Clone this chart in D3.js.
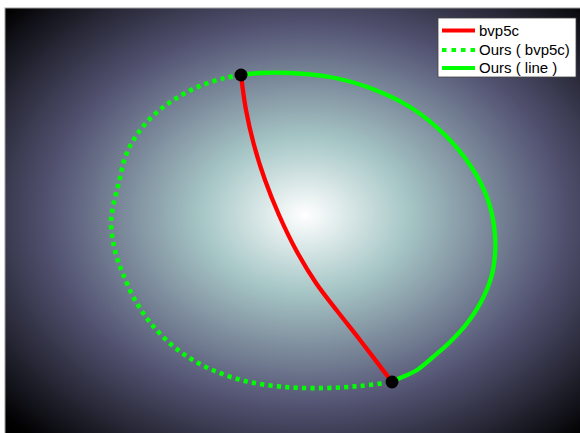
<!DOCTYPE html>
<html>
<head>
<meta charset="utf-8">
<script src="https://cdn.jsdelivr.net/npm/d3@7"></script>
<style>
  html, body { margin: 0; padding: 0; background: #ffffff; }
  svg { display: block; }
</style>
</head>
<body>
<svg id="chart" width="580" height="433"></svg>
<script>
// Axis limits of the plotting area
const xDomain = [0, 57.9];
const yDomain = [0, 43.2];

// Boundary-value solution from bvp5c
const bvpX = [23.6, 24.1, 24.9, 26.0, 27.4, 29.1, 31.1, 33.3, 35.5, 38.7];
const bvpY = [36.5, 33.0, 29.5, 26.0, 22.5, 19.0, 15.7, 12.8, 10.0, 5.8];

// Our geodesic, branch started from bvp5c (dotted)
const oursBvpX = [23.6, 22.0, 19.5, 17.0, 15.0, 13.3, 12.1, 11.4, 10.8, 10.6, 10.8, 11.2, 11.8, 13.0, 14.8, 17.3, 20.3, 24.0, 28.0, 32.0, 35.5, 38.7];
const oursBvpY = [36.5, 36.2, 35.4, 34.1, 32.6, 30.7, 28.5, 25.8, 23.3, 21.7, 19.9, 18.2, 16.6, 14.0, 11.4, 9.0, 7.2, 5.9, 5.3, 5.2, 5.4, 5.8];

// Our geodesic, branch started from the straight line (solid)
const oursLineX = [23.6, 25.5, 28.5, 32.5, 36.5, 40.5, 44.0, 46.7, 48.3, 49.0, 48.8, 47.9, 46.3, 44.5, 42.8, 41.2, 39.5, 38.7];
const oursLineY = [36.5, 36.7, 36.7, 36.3, 35.2, 33.3, 30.5, 27.2, 24.0, 20.5, 17.0, 14.4, 11.8, 9.8, 8.3, 7.0, 6.2, 5.8];

// Boundary points
const endX = [23.6, 38.7];
const endY = [36.5, 5.8];

const legendLabels = ["bvp5c", "Ours ( bvp5c)", "Ours ( line )"];

const svg = d3.select("#chart");
const plot = { left: 5, right: 584, top: 8, bottom: 440 };

const x = d3.scaleLinear().domain(xDomain).range([plot.left, plot.right]);
const y = d3.scaleLinear().domain(yDomain).range([plot.bottom, plot.top]);

// Bone colormap (gray blended with reversed hot)
function bone(t) {
  const c = v => Math.max(0, Math.min(1, v));
  const hr = c(t / 0.375), hg = c((t - 0.375) / 0.375), hb = c((t - 0.75) / 0.25);
  return d3.rgb(255 * (7 * t + hb) / 8, 255 * (7 * t + hg) / 8, 255 * (7 * t + hr) / 8);
}

// Metric magnitude field shown as a radial shading
const defs = svg.append("defs");
const grad = defs.append("radialGradient")
  .attr("id", "field")
  .attr("cx", 0.518).attr("cy", 0.479).attr("r", 0.75)
  .attr("fx", 0.518).attr("fy", 0.479);
d3.range(0, 41).forEach(i => {
  const o = i / 40;
  const t = Math.max(0, 1 - 1.07 * o);
  grad.append("stop").attr("offset", o).attr("stop-color", bone(t).formatHex());
});

svg.append("rect")
  .attr("x", plot.left).attr("y", plot.top)
  .attr("width", plot.right - plot.left).attr("height", plot.bottom - plot.top)
  .attr("fill", "url(#field)")
  .attr("stroke", "#a0a0a0").attr("stroke-width", 1);

const line = d3.line()
  .x(d => x(d[0])).y(d => y(d[1]))
  .curve(d3.curveCatmullRom.alpha(0.5));

const zip = (a, b) => a.map((v, i) => [v, b[i]]);

svg.append("path")
  .attr("d", line(zip(oursBvpX, oursBvpY)))
  .attr("fill", "none").attr("stroke", "#00ff00")
  .attr("stroke-width", 4.6).attr("stroke-dasharray", "4.2 4.2");

svg.append("path")
  .attr("d", line(zip(oursLineX, oursLineY)))
  .attr("fill", "none").attr("stroke", "#00ff00")
  .attr("stroke-width", 4.3);

svg.append("path")
  .attr("d", line(zip(bvpX, bvpY)))
  .attr("fill", "none").attr("stroke", "#ff0000")
  .attr("stroke-width", 4.3);

svg.selectAll("circle.end")
  .data(zip(endX, endY))
  .join("circle")
  .attr("class", "end")
  .attr("cx", d => x(d[0])).attr("cy", d => y(d[1]))
  .attr("r", 6.5).attr("fill", "#000");

// Legend
const lg = svg.append("g").attr("transform", "translate(438,18)");
lg.append("rect")
  .attr("width", 138).attr("height", 59)
  .attr("fill", "#fff").attr("stroke", "#444").attr("stroke-width", 0.8);

const legendStyles = [
  { color: "#ff0000", dash: null },
  { color: "#00ff00", dash: "4.5 5" },
  { color: "#00ff00", dash: null }
];
const rowY = [12.5, 32, 50];
legendLabels.forEach((label, i) => {
  lg.append("line")
    .attr("x1", 4).attr("x2", 37)
    .attr("y1", rowY[i]).attr("y2", rowY[i])
    .attr("stroke", legendStyles[i].color).attr("stroke-width", 4)
    .attr("stroke-dasharray", legendStyles[i].dash);
  lg.append("text")
    .attr("x", 41).attr("y", rowY[i] + 5)
    .attr("font-family", "'Liberation Sans', Arial, sans-serif")
    .attr("font-size", 15).attr("fill", "#000")
    .text(label);
});
</script>
</body>
</html>
